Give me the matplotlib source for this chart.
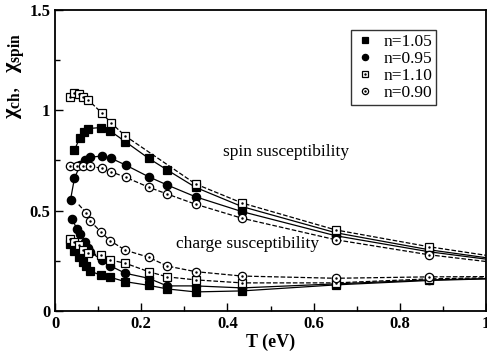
import matplotlib
matplotlib.use("Agg")
import matplotlib.pyplot as plt
from matplotlib.legend_handler import HandlerTuple
from matplotlib.ticker import MultipleLocator

plt.rcParams['font.family'] = ['Liberation Serif', 'DejaVu Serif']
plt.rcParams['mathtext.fontset'] = 'custom'
plt.rcParams['mathtext.rm'] = 'Liberation Serif'
plt.rcParams['mathtext.it'] = 'Liberation Serif:italic'
plt.rcParams['mathtext.bf'] = 'Liberation Serif:bold'

# spin susceptibility
T_spin_105 = [0.045, 0.057, 0.067, 0.077, 0.106, 0.128, 0.163, 0.217, 0.260, 0.326, 0.434, 0.651, 0.868, 1.085]
spin_105 = [0.800, 0.862, 0.894, 0.909, 0.914, 0.897, 0.844, 0.761, 0.703, 0.616, 0.520, 0.390, 0.305, 0.240]

T_spin_095 = [0.036, 0.045, 0.058, 0.070, 0.081, 0.108, 0.130, 0.164, 0.217, 0.260, 0.326, 0.434, 0.651, 0.868, 1.085]
spin_095 = [0.555, 0.661, 0.725, 0.752, 0.766, 0.772, 0.761, 0.727, 0.669, 0.628, 0.569, 0.495, 0.375, 0.295, 0.235]

T_spin_110 = [0.034, 0.044, 0.055, 0.065, 0.077, 0.108, 0.130, 0.163, 0.326, 0.434, 0.651, 0.868, 1.085]
spin_110 = [1.068, 1.088, 1.081, 1.068, 1.051, 0.988, 0.937, 0.872, 0.633, 0.538, 0.404, 0.320, 0.250]

T_spin_090 = [0.035, 0.050, 0.066, 0.081, 0.108, 0.130, 0.164, 0.217, 0.260, 0.326, 0.434, 0.651, 0.868, 1.085]
spin_090 = [0.722, 0.722, 0.722, 0.722, 0.711, 0.694, 0.666, 0.617, 0.583, 0.532, 0.462, 0.355, 0.280, 0.225]

# charge susceptibility
T_ch_105 = [0.035, 0.045, 0.055, 0.065, 0.072, 0.081, 0.106, 0.128, 0.163, 0.217, 0.260, 0.326, 0.434, 0.651, 0.868, 1.085]
ch_105 = [0.335, 0.300, 0.270, 0.245, 0.225, 0.200, 0.178, 0.168, 0.146, 0.128, 0.110, 0.095, 0.100, 0.130, 0.152, 0.165]

T_ch_095 = [0.040, 0.050, 0.058, 0.070, 0.077, 0.081, 0.108, 0.128, 0.163, 0.217, 0.260, 0.326, 0.434, 0.651, 0.868, 1.085]
ch_095 = [0.460, 0.410, 0.385, 0.345, 0.315, 0.295, 0.255, 0.225, 0.188, 0.163, 0.125, 0.125, 0.115, 0.135, 0.155, 0.165]

T_ch_110 = [0.035, 0.045, 0.055, 0.065, 0.077, 0.106, 0.128, 0.163, 0.217, 0.260, 0.326, 0.434, 0.651, 0.868, 1.085]
ch_110 = [0.357, 0.345, 0.329, 0.304, 0.287, 0.279, 0.254, 0.238, 0.196, 0.170, 0.155, 0.140, 0.140, 0.160, 0.168]

T_ch_090 = [0.055, 0.073, 0.081, 0.106, 0.128, 0.163, 0.217, 0.260, 0.326, 0.434, 0.651, 0.868, 1.085]
ch_090 = [0.530, 0.487, 0.450, 0.395, 0.350, 0.303, 0.268, 0.224, 0.196, 0.174, 0.163, 0.170, 0.172]

labels = ['n=1.05', 'n=0.95', 'n=1.10', 'n=0.90']

fig = plt.figure(figsize=(4.87, 3.55), dpi=100)
ax = fig.add_axes([0.113, 0.124, 0.885, 0.848])

ms = 6
styles = {
    'n=1.05': dict(marker='s', mfc='black', mec='black', ls='-'),
    'n=0.95': dict(marker='o', mfc='black', mec='black', ls='-'),
    'n=1.10': dict(marker='s', mfc='white', mec='black', ls='--'),
    'n=0.90': dict(marker='o', mfc='white', mec='black', ls='--'),
}

def draw(T, chi, key, markevery=None):
    st = styles[key]
    ax.plot(T, chi, color='black', lw=0.9, ls=st['ls'], marker=st['marker'],
            ms=ms, mfc=st['mfc'], mec=st['mec'], mew=0.9, markevery=markevery)
    if st['mfc'] == 'white':
        idx = markevery if markevery is not None else range(len(T))
        ax.plot([T[i] for i in idx], [chi[i] for i in idx], ls='none',
                marker='.', ms=1.5, color='black')

draw(T_spin_105, spin_105, 'n=1.05')
draw(T_spin_095, spin_095, 'n=0.95')
draw(T_spin_110, spin_110, 'n=1.10')
draw(T_spin_090, spin_090, 'n=0.90')
draw(T_ch_105, ch_105, 'n=1.05')
draw(T_ch_095, ch_095, 'n=0.95')
draw(T_ch_110, ch_110, 'n=1.10')
draw(T_ch_090, ch_090, 'n=0.90', markevery=list(range(1, len(T_ch_090))))

# legend with marker-only entries
handles = []
for key in labels:
    st = styles[key]
    h = ax.plot([], [], ls='none', marker=st['marker'], ms=4.5, mfc=st['mfc'],
                mec='black', mew=0.9)[0]
    if st['mfc'] == 'white':
        d = ax.plot([], [], ls='none', marker='.', ms=1.5, color='black')[0]
        handles.append((h, d))
    else:
        handles.append(h)
leg = ax.legend(handles, labels, loc='upper right', bbox_to_anchor=(0.885, 0.935),
                handler_map={tuple: HandlerTuple(ndivide=1, pad=0)},
                frameon=True, fancybox=False, edgecolor='black', fontsize=12.5,
                handlelength=1.1, handletextpad=0.5, borderpad=0.25,
                labelspacing=0.05, borderaxespad=0)
leg.get_frame().set_linewidth(1.0)

ax.text(0.39, 0.77, 'spin susceptibility', fontsize=12.5)
ax.text(0.28, 0.315, 'charge susceptibility', fontsize=12.5)

ax.set_xlim(0, 1)
ax.set_ylim(0, 1.5)
ax.xaxis.set_minor_locator(MultipleLocator(0.1))
ax.yaxis.set_minor_locator(MultipleLocator(0.25))
ax.set_xticks([0, 0.2, 0.4, 0.6, 0.8, 1.0])
ax.set_xticklabels(['0', '0.2', '0.4', '0.6', '0.8', '1'])
ax.set_yticks([0, 0.5, 1.0, 1.5])
ax.set_yticklabels(['0', '0.5', '1', '1.5'])
ax.tick_params(which='both', direction='in', top=False, right=False, labelsize=12)
ax.tick_params(which='major', length=6, width=1)
ax.tick_params(which='minor', length=3.5, width=1)
for lab in ax.get_xticklabels() + ax.get_yticklabels():
    lab.set_fontweight('bold')
for s in ax.spines.values():
    s.set_linewidth(1.3)

ax.set_xlabel('T (eV)', fontsize=13, fontweight='bold', labelpad=1)
ax.set_ylabel(r'$\mathbf{\chi}_{\mathbf{ch}},\ \ \mathbf{\chi}_{\mathbf{spin}}$', fontsize=16)
ax.yaxis.set_label_coords(-0.065, 0.78)

fig.savefig('out.png', dpi=100)
